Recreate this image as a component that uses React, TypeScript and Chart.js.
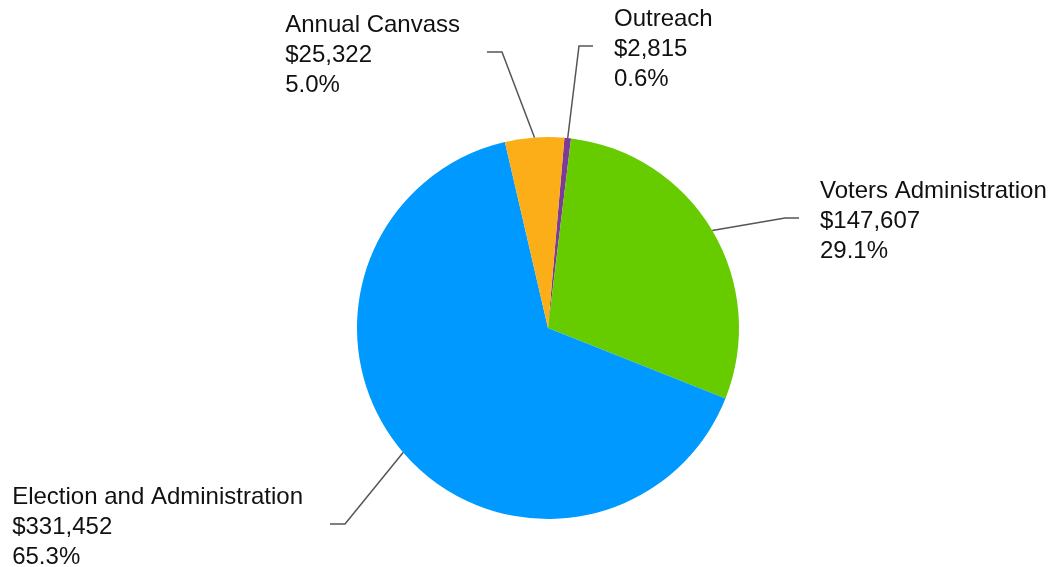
import React, { useEffect, useRef } from "react";
import { Chart, registerables } from "chart.js";

Chart.register(...registerables);

const categories = ["Outreach", "Voters Administration", "Election and Administration", "Annual Canvass"];
const amounts = [2815, 147607, 331452, 25322];
const sliceColors = ["#7E3A97", "#66CC00", "#0099FF", "#FBAE17"];
// elbow points of leader lines, offsets from the pie centre (px)
const labelElbows: [number, number][] = [
  [31, -282],
  [237, -110],
  [-203, 196],
  [-46, -276],
];

const FONT = "24px Arial, 'Liberation Sans', sans-serif";

const labelPlugin = {
  id: "pieLabels",
  afterDatasetsDraw(chart: any) {
    const ctx = chart.ctx;
    const meta = chart.getDatasetMeta(0);
    const total = amounts.reduce((a, b) => a + b, 0);
    ctx.save();
    ctx.font = FONT;
    ctx.fillStyle = "#111";
    ctx.strokeStyle = "#555";
    ctx.lineWidth = 1.5;
    meta.data.forEach((arc: any, i: number) => {
      const p = arc.getProps(["x", "y", "startAngle", "endAngle", "outerRadius"], true);
      const mid = (p.startAngle + p.endAngle) / 2;
      const sx = p.x + Math.cos(mid) * p.outerRadius;
      const sy = p.y + Math.sin(mid) * p.outerRadius;
      const ex = p.x + labelElbows[i][0];
      const ey = p.y + labelElbows[i][1];
      const right = labelElbows[i][0] > 0;
      const hx = ex + (right ? 14 : -15);
      ctx.beginPath();
      ctx.moveTo(sx, sy);
      ctx.lineTo(ex, ey);
      ctx.lineTo(hx, ey);
      ctx.stroke();
      const lines = [
        categories[i],
        "$" + amounts[i].toLocaleString("en-US"),
        ((amounts[i] / total) * 100).toFixed(1) + "%",
      ];
      const w = Math.max(...lines.map((l) => ctx.measureText(l).width));
      const tx = right ? hx + 21 : hx - 27 - w;
      ctx.textAlign = "left";
      ctx.textBaseline = "alphabetic";
      lines.forEach((l, k) => {
        ctx.fillText(l, tx, ey - 20 + k * 30);
      });
    });
    ctx.restore();
  },
};

export default function App() {
  const ref = useRef<HTMLCanvasElement | null>(null);
  useEffect(() => {
    if (!ref.current) return;
    const chart = new Chart(ref.current, {
      type: "pie",
      data: {
        labels: categories,
        datasets: [
          {
            data: amounts,
            backgroundColor: sliceColors,
            borderWidth: 0,
          },
        ],
      },
      options: {
        responsive: false,
        animation: false,
        devicePixelRatio: 1,
        rotation: 4.93,
        layout: { padding: { left: 357, right: 312, top: 137, bottom: 48 } },
        plugins: {
          legend: { display: false },
          tooltip: { enabled: false },
        },
      },
      plugins: [labelPlugin],
    });
    return () => chart.destroy();
  }, []);
  return (
    <div style={{ position: "fixed", left: 0, top: 0, width: 1051, height: 567, background: "#fff" }}>
      <canvas ref={ref} width={1051} height={567} />
    </div>
  );
}
